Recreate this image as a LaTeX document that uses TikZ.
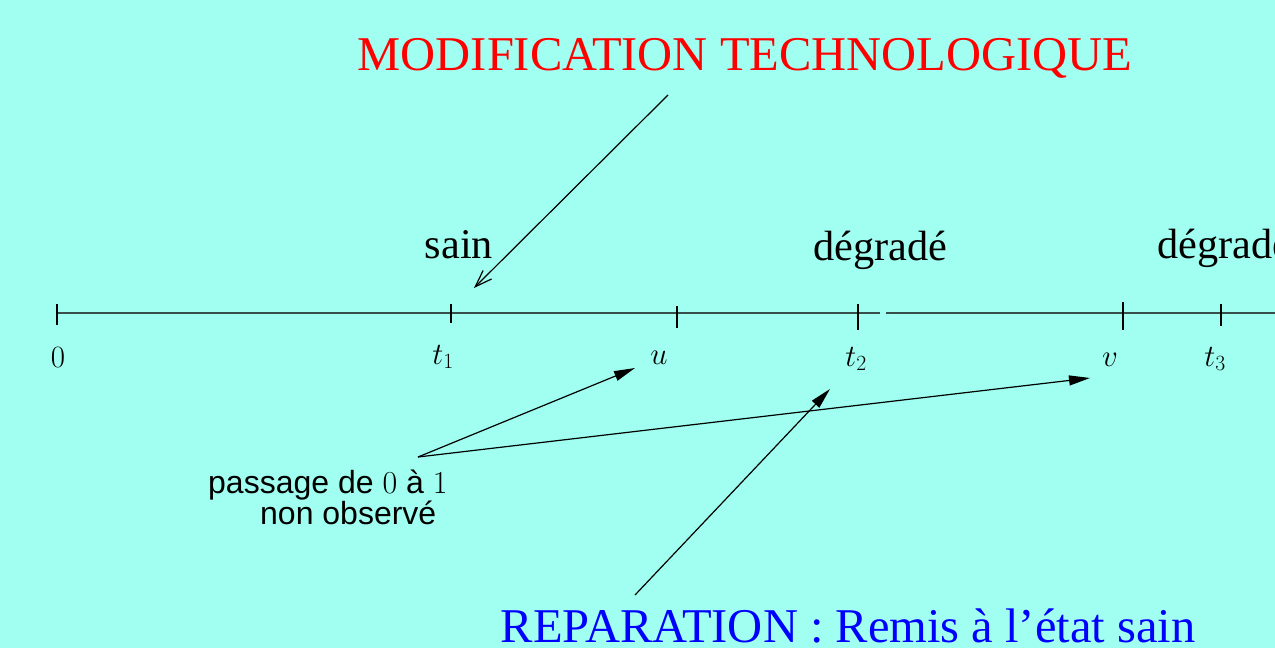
\RequirePackage{fix-cm}
\documentclass[tikz,border=0pt]{standalone}
\usepackage[no-math]{fontspec}
\setmainfont{Liberation Serif}
\newfontfamily\hv{Liberation Sans}
\usetikzlibrary{arrows.meta}
\definecolor{bg}{RGB}{160,255,240}
\definecolor{axisc}{RGB}{55,80,75}
\begin{document}
\begin{tikzpicture}[x=1pt,y=-1pt,
  lbl/.style={anchor=base,inner sep=0pt},
  big/.style={font=\fontsize{48.5}{58}\selectfont},
  mid/.style={font=\fontsize{42.3}{50}\selectfont},
  mth/.style={font=\fontsize{31}{37}\selectfont},
  sans/.style={font=\hv\fontsize{32}{38}\selectfont},
  tickmark/.style={line width=1.1pt},
  ax/.style={line width=2pt,draw=axisc},
  arr/.style={line width=1.2pt,-{Triangle[length=21pt,width=10pt]}},
  openarr/.style={line width=1.2pt,-{Straight Barb[length=17pt,width=12pt]}}]
\useasboundingbox (0,0) rectangle (1275,648);
\clip (0,0) rectangle (1275,648);
\fill[bg] (0,0) rectangle (1275,648);
% axis
\coordinate (p0) at (57,313);
\coordinate (gapa) at (880,313);
\coordinate (gapb) at (886,313);
\coordinate (pend) at (1285,313);
\draw[ax] (p0) -- (gapa);
\draw[ax] (gapb) -- (pend);
% ticks
\draw[tickmark] (57,304) -- (57,325);
\draw[tickmark] (451,304) -- (451,323);
\draw[tickmark] (677,306) -- (677,328);
\draw[tickmark] (858,304) -- (858,330);
\draw[tickmark] (1123,302) -- (1123,330);
\draw[tickmark] (1221,304) -- (1221,326);
% tick labels
\node[lbl,mth] (l0) at (58,367) {$0$};
\node[lbl,mth] (lt1) at (443,364) {$t_1$};
\node[lbl,mth] (lu) at (659,364) {$u$};
\node[lbl,mth] (lt2) at (856,366) {$t_2$};
\node[lbl,mth] (lv) at (1110,366) {$v$};
\node[lbl,mth] (lt3) at (1215,366) {$t_3$};
% state labels
\node[lbl,mid] (sain) at (459,258) {sain};
\node[lbl,mid] (deg1) at (880,260) {dégradé};
\node[lbl,mid,anchor=base west] (deg2) at (1157,258) {dégradé};
% titles
\node[lbl,big,text=red] (modif) at (745,70) {MODIFICATION TECHNOLOGIQUE};
\node[lbl,big,text=blue] (repar) at (848,642) {REPARATION : Remis à l’état sain};
% passage text
\node[lbl,sans,anchor=base west] (pa) at (208,493) {passage de $0$ à $1$};
\node[lbl,sans,anchor=base west] (pb) at (260,524) {non observé};
% arrows
\coordinate (ms) at (668,95);
\coordinate (me) at (474,288);
\draw[openarr] (ms) -- (me);
\coordinate (ps) at (418,457);
\coordinate (ue) at (635,368);
\coordinate (ve) at (1090,378);
\draw[arr] (ps) -- (ue);
\draw[arr] (ps) -- (ve);
\coordinate (rs) at (635,595);
\coordinate (re) at (830,389);
\draw[arr] (rs) -- (re);
\end{tikzpicture}
\end{document}
